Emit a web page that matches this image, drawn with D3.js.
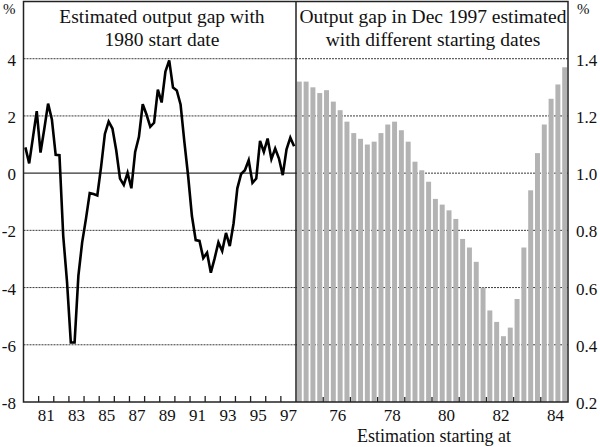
<!DOCTYPE html>
<html><head><meta charset="utf-8">
<script src="https://cdn.jsdelivr.net/npm/d3@7"></script>
<style>
html,body{margin:0;padding:0;background:#fff;}
svg{display:block;font-family:"Liberation Serif","Times New Roman",serif;}
</style></head>
<body><svg id="c" width="600" height="447"></svg>
<script>
// ---- Data ----
// Left panel: estimated output gap with 1980 start date, quarterly 1980Q1–1997Q4 (%)
const gapStartYear = 1980;
const gapValues = [
  0.90, 0.34, 1.25, 2.17, 0.72, 1.55, 2.43, 1.88,
  0.64, 0.63, -2.20, -3.80, -5.92, -5.92, -3.59, -2.42,
  -1.60, -0.70, -0.73, -0.78, 0.22, 1.37, 1.80, 1.56,
  0.80, -0.19, -0.41, 0.01, -0.53, 0.74, 1.27, 2.41,
  2.05, 1.62, 1.76, 2.92, 2.47, 3.55, 3.94, 2.99,
  2.89, 2.40, 1.10, -0.10, -1.50, -2.34, -2.37, -2.97,
  -2.78, -3.48, -2.98, -2.42, -2.72, -2.09, -2.55, -1.76,
  -0.53, -0.03, 0.10, 0.45, -0.34, -0.19, 1.13, 0.74,
  1.21, 0.49, 0.86, 0.51, -0.07, 0.83, 1.24, 0.94
];
// Right panel: output gap in Dec 1997 by estimation start quarter, 1975Q1–1984Q4 (%)
const startYear = 1975;
const decGapValues = [
  1.32, 1.32, 1.30, 1.28, 1.29, 1.25, 1.22, 1.18,
  1.14, 1.12, 1.10, 1.11, 1.14, 1.17, 1.18, 1.15,
  1.11, 1.04, 1.01, 0.97, 0.91, 0.89, 0.87, 0.84,
  0.77, 0.74, 0.69, 0.60, 0.52, 0.48, 0.43, 0.46,
  0.56, 0.74, 0.94, 1.07, 1.17, 1.26, 1.31, 1.37
];
const leftYTicks = [-8, -6, -4, -2, 0, 2, 4];
const leftYTickLabels = ["-8", "-6", "-4", "-2", "0", "2", "4"];
const rightYTicks = [0.2, 0.4, 0.6, 0.8, 1.0, 1.2, 1.4];
const rightYTickLabels = ["0.2", "0.4", "0.6", "0.8", "1.0", "1.2", "1.4"];
const leftXLabels = ["81", "83", "85", "87", "89", "91", "93", "95", "97"];
const rightXLabels = ["76", "78", "80", "82", "84"];
const leftTitle = ["Estimated output gap with", "1980 start date"];
const rightTitle = ["Output gap in Dec 1997 estimated", "with different starting dates"];
const rightXTitle = "Estimation starting at";

// ---- Layout ----
const svg = d3.select("#c");
const L = 23.5, M = 296, R = 568, T = 1.5, B = 402;

const xL = d3.scaleLinear().domain([1980, 1998]).range([L, M]);
const yL = d3.scaleLinear().domain([-8, 6]).range([B, T]);
const xRyear = d3.scaleLinear().domain([1975, 1985]).range([M, R]);
const yR = d3.scaleLinear().domain([0.2, 1.6]).range([B, T]);
const qLabels = decGapValues.map((d, i) => `${startYear + Math.floor(i / 4)}Q${i % 4 + 1}`);
const xR = d3.scaleBand().domain(qLabels).range([M, R]).paddingInner(0.27).paddingOuter(0.12);

const gridColor = "#3a3a3a";
const fs = 17;

// Left gridlines
svg.append("g").selectAll("line").data(leftYTicks.filter(d => d !== 0 && d !== -8)).join("line")
  .attr("x1", L).attr("x2", M).attr("y1", d => yL(d)).attr("y2", d => yL(d))
  .attr("stroke", gridColor).attr("stroke-width", 1).attr("stroke-dasharray", "2,1");
// zero line
svg.append("line").attr("x1", L).attr("x2", M).attr("y1", yL(0)).attr("y2", yL(0))
  .attr("stroke", "#333").attr("stroke-width", 1.2);

// Right gridlines
svg.append("g").selectAll("line").data(rightYTicks.filter(d => d !== 0.2)).join("line")
  .attr("x1", M).attr("x2", R).attr("y1", d => yR(d)).attr("y2", d => yR(d))
  .attr("stroke", gridColor).attr("stroke-width", 1).attr("stroke-dasharray", "2,1");

// Bars
svg.append("g").selectAll("rect").data(decGapValues).join("rect")
  .attr("x", (d, i) => xR(qLabels[i]))
  .attr("width", xR.bandwidth())
  .attr("y", d => yR(d))
  .attr("height", d => yR(0.2) - yR(d))
  .attr("fill", "#b3b3b3");

// Line
const line = d3.line()
  .x((d, i) => xL(gapStartYear + i / 4 + 0.125))
  .y(d => yL(d));
svg.append("path").datum(gapValues).attr("d", line)
  .attr("fill", "none").attr("stroke", "#000").attr("stroke-width", 2.6)
  .attr("stroke-linejoin", "miter");

// Frame
const frame = svg.append("g").attr("stroke", "#222").attr("stroke-width", 1.5).attr("fill", "none");
frame.append("rect").attr("x", L).attr("y", T).attr("width", R - L).attr("height", B - T);
frame.append("line").attr("x1", M).attr("x2", M).attr("y1", T).attr("y2", B);

// Bottom ticks (inside, pointing up)
const leftTickYears = d3.range(1981, 1998);
svg.append("g").selectAll("line").data(leftTickYears).join("line")
  .attr("x1", d => xL(d)).attr("x2", d => xL(d)).attr("y1", B).attr("y2", B - 6)
  .attr("stroke", "#222").attr("stroke-width", 1.3);
const rightTickYears = d3.range(1976, 1985);
svg.append("g").selectAll("line").data(rightTickYears).join("line")
  .attr("x1", d => xRyear(d)).attr("x2", d => xRyear(d)).attr("y1", B).attr("y2", B - 5)
  .attr("stroke", "#222").attr("stroke-width", 1.3);

// Y tick labels
svg.append("g").selectAll("text").data(leftYTicks).join("text")
  .attr("x", 16).attr("y", d => yL(d) + 7)
  .attr("text-anchor", "end").attr("font-size", fs).attr("fill", "#111")
  .text((d, i) => leftYTickLabels[i]);
svg.append("g").selectAll("text").data(rightYTicks).join("text")
  .attr("x", 576).attr("y", d => yR(d) + 7)
  .attr("text-anchor", "start").attr("font-size", fs).attr("fill", "#111")
  .text((d, i) => rightYTickLabels[i]);

// % labels
svg.append("text").attr("x", 3).attr("y", 14).attr("font-size", 15).attr("fill", "#111").text("%");
svg.append("text").attr("x", 577).attr("y", 14).attr("font-size", 15).attr("fill", "#111").text("%");

// X tick labels
svg.append("g").selectAll("text").data(leftXLabels).join("text")
  .attr("x", d => xL(1900 + +d + 0.5)).attr("y", 421)
  .attr("text-anchor", "middle").attr("font-size", fs).attr("fill", "#111").text(d => d);
svg.append("g").selectAll("text").data(rightXLabels).join("text")
  .attr("x", d => xRyear(1900 + +d + 0.5) + 1).attr("y", 421)
  .attr("text-anchor", "middle").attr("font-size", fs).attr("fill", "#111").text(d => d);

// Axis title
svg.append("text").attr("x", 434).attr("y", 442).attr("text-anchor", "middle")
  .attr("font-size", 18).attr("fill", "#111").text(rightXTitle);

// Panel titles
svg.append("g").selectAll("text").data(leftTitle).join("text")
  .attr("x", 162).attr("y", (d, i) => 23 + i * 22.5).attr("text-anchor", "middle")
  .attr("font-size", 19.5).attr("fill", "#111").text(d => d);
svg.append("g").selectAll("text").data(rightTitle).join("text")
  .attr("x", 433).attr("y", (d, i) => 23 + i * 22.5).attr("text-anchor", "middle")
  .attr("font-size", 19.5).attr("fill", "#111").text(d => d);
</script></body></html>
